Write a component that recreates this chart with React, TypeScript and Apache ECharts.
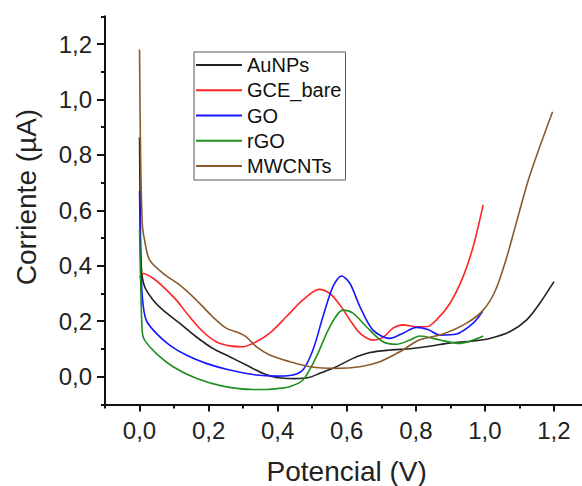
import React, { useEffect, useRef } from "react";
import * as echarts from "echarts";

const FONT = "Liberation Sans, Arial, sans-serif";

const seriesNames = ["AuNPs", "GCE_bare", "GO", "rGO", "MWCNTs"];
const seriesColors = ["#222222", "#ff2424", "#1616ff", "#1f8f1f", "#8b5a2b"];

const auNPsV = [0, 0.002, 0.005, 0.0145, 0.039, 0.068, 0.116, 0.164, 0.212, 0.261, 0.309, 0.357, 0.38, 0.41, 0.45, 0.49, 0.522, 0.57, 0.618, 0.667, 0.725, 0.783, 0.84, 0.9, 0.96, 1.014, 1.072, 1.121, 1.159, 1.2];
const auNPsI = [0.864, 0.6, 0.397, 0.325, 0.277, 0.24, 0.193, 0.144, 0.102, 0.072, 0.042, 0.012, 0.002, -0.005, -0.007, -0.003, 0.012, 0.036, 0.066, 0.087, 0.096, 0.101, 0.11, 0.122, 0.128, 0.138, 0.162, 0.205, 0.265, 0.343];

const gceV = [0, 0.01, 0.039, 0.068, 0.106, 0.145, 0.184, 0.222, 0.261, 0.299, 0.338, 0.377, 0.425, 0.473, 0.52, 0.551, 0.58, 0.609, 0.638, 0.676, 0.705, 0.734, 0.763, 0.8, 0.831, 0.86, 0.899, 0.937, 0.966, 0.995];
const gceI = [0.357, 0.372, 0.355, 0.325, 0.277, 0.216, 0.162, 0.126, 0.111, 0.108, 0.126, 0.157, 0.216, 0.277, 0.315, 0.3, 0.259, 0.205, 0.157, 0.132, 0.142, 0.175, 0.187, 0.18, 0.18, 0.205, 0.265, 0.361, 0.469, 0.62];

const goV = [0, 0.003, 0.008, 0.019, 0.048, 0.087, 0.135, 0.193, 0.261, 0.338, 0.396, 0.435, 0.473, 0.502, 0.531, 0.56, 0.585, 0.609, 0.638, 0.676, 0.725, 0.763, 0.802, 0.835, 0.87, 0.918, 0.966, 0.993];
const goI = [0.67, 0.45, 0.289, 0.205, 0.157, 0.114, 0.078, 0.048, 0.024, 0.006, 0.002, 0.004, 0.024, 0.096, 0.216, 0.325, 0.363, 0.337, 0.253, 0.168, 0.138, 0.157, 0.178, 0.17, 0.15, 0.154, 0.193, 0.235];

const rgoV = [0, 0.004, 0.008, 0.0145, 0.048, 0.097, 0.164, 0.241, 0.328, 0.37, 0.406, 0.435, 0.473, 0.512, 0.551, 0.589, 0.618, 0.657, 0.705, 0.744, 0.783, 0.812, 0.87, 0.928, 0.966, 0.995];
const rgoI = [0.53, 0.3, 0.16, 0.132, 0.084, 0.036, -0.006, -0.034, -0.046, -0.046, -0.042, -0.036, -0.012, 0.072, 0.18, 0.24, 0.229, 0.18, 0.126, 0.117, 0.132, 0.147, 0.132, 0.12, 0.132, 0.147];

const mwcntV = [0, 0.003, 0.008, 0.0145, 0.029, 0.068, 0.116, 0.164, 0.212, 0.251, 0.29, 0.309, 0.338, 0.377, 0.435, 0.493, 0.57, 0.638, 0.696, 0.754, 0.81, 0.879, 0.947, 0.995, 1.03, 1.063, 1.092, 1.126, 1.159, 1.196];
const mwcntI = [1.18, 0.8, 0.55, 0.493, 0.421, 0.373, 0.331, 0.277, 0.216, 0.175, 0.157, 0.144, 0.108, 0.078, 0.054, 0.036, 0.03, 0.036, 0.054, 0.09, 0.132, 0.154, 0.193, 0.24, 0.31, 0.43, 0.56, 0.71, 0.83, 0.956];

const xMajorTicks = [0, 0.2, 0.4, 0.6, 0.8, 1.0, 1.2];
const xMinorTicks = [-0.1, 0.1, 0.3, 0.5, 0.7, 0.9, 1.1];
const yMajorTicks = [0, 0.2, 0.4, 0.6, 0.8, 1.0, 1.2];
const yMinorTicks = [-0.1, 0.1, 0.3, 0.5, 0.7, 0.9, 1.1, 1.3];

const xTitle = "Potencial (V)";
const yTitle = "Corriente (µA)";

const allV = [auNPsV, gceV, goV, rgoV, mwcntV];
const allI = [auNPsI, gceI, goI, rgoI, mwcntI];

const fmt = (v: number) => v.toFixed(1).replace(".", ",");

export default function App() {
  const ref = useRef<HTMLDivElement>(null);
  useEffect(() => {
    document.body.style.margin = "0";
    if (!ref.current) return;
    const chart = echarts.init(ref.current, undefined, { renderer: "svg" });
    const grid = { left: 105, width: 483.5, top: 16.3, height: 388.1, containLabel: false, outerBoundsMode: "none" };
    const axisCommon = {
      type: "value" as const,
      gridIndex: 0,
      splitLine: { show: false },
    };
    const option: any = {
      animation: false,
      backgroundColor: "#ffffff",
      grid,
      xAxis: [
        {
          ...axisCommon,
          min: -0.1,
          max: 1.3,
          position: "bottom",
          axisLine: { show: true, onZero: false, lineStyle: { color: "#111", width: 2 } },
          axisTick: { show: true, inside: false, length: 7, customValues: xMajorTicks, lineStyle: { color: "#111", width: 2 } },
          axisLabel: { show: true, customValues: xMajorTicks, formatter: fmt, margin: 14, fontSize: 24, color: "#222", fontFamily: FONT },
        },
        {
          ...axisCommon,
          min: -0.1,
          max: 1.3,
          position: "bottom",
          axisLine: { show: false, onZero: false },
          axisTick: { show: true, inside: false, length: 4, customValues: xMinorTicks, lineStyle: { color: "#111", width: 2 } },
          axisLabel: { show: false },
        },
      ],
      yAxis: [
        {
          ...axisCommon,
          min: -0.1,
          max: 1.3,
          position: "left",
          axisLine: { show: true, onZero: false, lineStyle: { color: "#111", width: 2 } },
          axisTick: { show: true, inside: false, length: 8, customValues: yMajorTicks, lineStyle: { color: "#111", width: 2 } },
          axisLabel: { show: true, customValues: yMajorTicks, formatter: fmt, margin: 13, fontSize: 24, color: "#222", fontFamily: FONT },
        },
        {
          ...axisCommon,
          min: -0.1,
          max: 1.3,
          position: "left",
          axisLine: { show: false, onZero: false },
          axisTick: { show: true, inside: false, length: 4, customValues: yMinorTicks, lineStyle: { color: "#111", width: 2 } },
          axisLabel: { show: false },
        },
      ],
      legend: {
        orient: "vertical",
        left: 194,
        top: 52,
        padding: [3, 4, 4, 2],
        icon: "rect",
        itemWidth: 46,
        itemHeight: 2,
        itemGap: 5.25,
        borderColor: "#555",
        borderWidth: 1,
        backgroundColor: "#fff",
        textStyle: { fontSize: 20, lineHeight: 20, color: "#111", fontFamily: FONT },
        data: seriesNames,
      },
      graphic: [
        {
          type: "text",
          x: 346.7,
          y: 471,
          style: { text: xTitle, fontSize: 28, fontFamily: FONT, fill: "#222", align: "center", verticalAlign: "middle" },
        },
        {
          type: "text",
          x: 26,
          y: 197,
          rotation: Math.PI / 2,
          style: { text: yTitle, fontSize: 28, fontFamily: FONT, fill: "#222", align: "center", verticalAlign: "middle" },
        },
      ],
      series: seriesNames.map((name, k) => ({
        name,
        type: "line",
        xAxisIndex: 0,
        yAxisIndex: 0,
        symbol: "none",
        smooth: 0.3,
        data: allV[k].map((v, j) => [v, allI[k][j]]),
        lineStyle: { color: seriesColors[k], width: 1.6 },
        itemStyle: { color: seriesColors[k] },
      })),
    };
    chart.setOption(option);
    return () => chart.dispose();
  }, []);
  return <div ref={ref} style={{ width: 582, height: 486, position: "fixed", left: 0, top: 0 }} />;
}
